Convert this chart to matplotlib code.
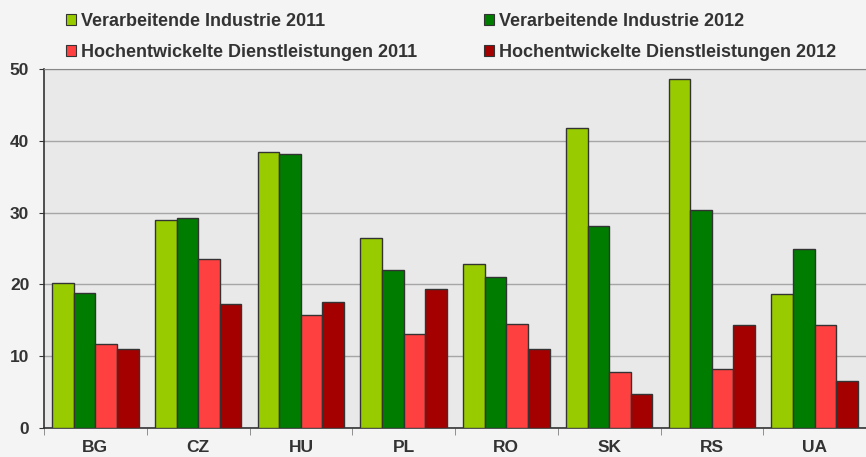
import matplotlib.pyplot as plt
import numpy as np
from matplotlib.patches import Patch

# Values
countries = ['BG', 'CZ', 'HU', 'PL', 'RO', 'SK', 'RS', 'UA']
ind_2011 = [20.2, 29.0, 38.4, 26.4, 22.9, 41.8, 48.6, 18.6]
ind_2012 = [18.8, 29.3, 38.2, 22.0, 21.0, 28.2, 30.4, 25.0]
dl_2011 = [11.7, 23.5, 15.8, 13.1, 14.5, 7.8, 8.2, 14.3]
dl_2012 = [11.0, 17.3, 17.5, 19.3, 11.0, 4.7, 14.3, 6.6]
labels = ['Verarbeitende Industrie 2011', 'Verarbeitende Industrie 2012',
          'Hochentwickelte Dienstleistungen 2011', 'Hochentwickelte Dienstleistungen 2012']
colors = ['#99cc00', '#007c00', '#ff4040', '#a50000']

plt.rcParams['font.family'] = ['Liberation Sans', 'DejaVu Sans']
plt.rcParams['font.weight'] = 'bold'

fig = plt.figure(figsize=(8.66, 4.57), dpi=100)
fig.patch.set_facecolor('#f4f4f4')
ax = fig.add_axes([44 / 866, 29 / 457, 822 / 866, 359 / 457])
ax.set_facecolor('#e9e9e9')

x = np.arange(len(countries))
w = 0.21
series = [ind_2011, ind_2012, dl_2011, dl_2012]
for i, vals in enumerate(series):
    ax.bar(x + (i - 1.5) * w, vals, w, color=colors[i], edgecolor='#333333',
           linewidth=1, zorder=3)

ax.set_xlim(-0.5, len(countries) - 0.5)
ax.set_ylim(0, 50)
ax.set_yticks([0, 10, 20, 30, 40, 50])
ax.grid(axis='y', color='#a6a6a6', linewidth=1, zorder=0)
ax.set_xticks(x)
ax.set_xticklabels(countries)
ax.set_xticks(np.arange(len(countries) + 1) - 0.5, minor=True)
ax.tick_params(axis='x', which='major', length=0, pad=9, labelsize=12.5, labelcolor='#333333')
ax.tick_params(axis='x', which='minor', length=5, color='#808080')
ax.tick_params(axis='y', length=3.6, color='#333333', labelsize=12.5, labelcolor='#333333', pad=7)

for s in ['left', 'bottom']:
    ax.spines[s].set_color('#333333')
    ax.spines[s].set_linewidth(1.2)
ax.spines['top'].set_color('#888888')
ax.spines['right'].set_visible(False)

# legend fills column-wise, so order handles to get the two rows of the reference
order = [0, 2, 1, 3]
handles = [Patch(facecolor=colors[i], edgecolor='#333333', linewidth=0.8) for i in order]
fig.legend(handles, [labels[i] for i in order], ncol=2, loc='upper left',
           bbox_to_anchor=(55 / 866, 1 - 2 / 457), frameon=False,
           prop={'weight': 'bold', 'size': 13},
           handlelength=0.55, handleheight=0.55, handletextpad=0.3, labelspacing=0.8,
           columnspacing=3.7, labelcolor='#333333', borderaxespad=0.2)

plt.savefig('out.png', dpi=100, facecolor=fig.get_facecolor())
